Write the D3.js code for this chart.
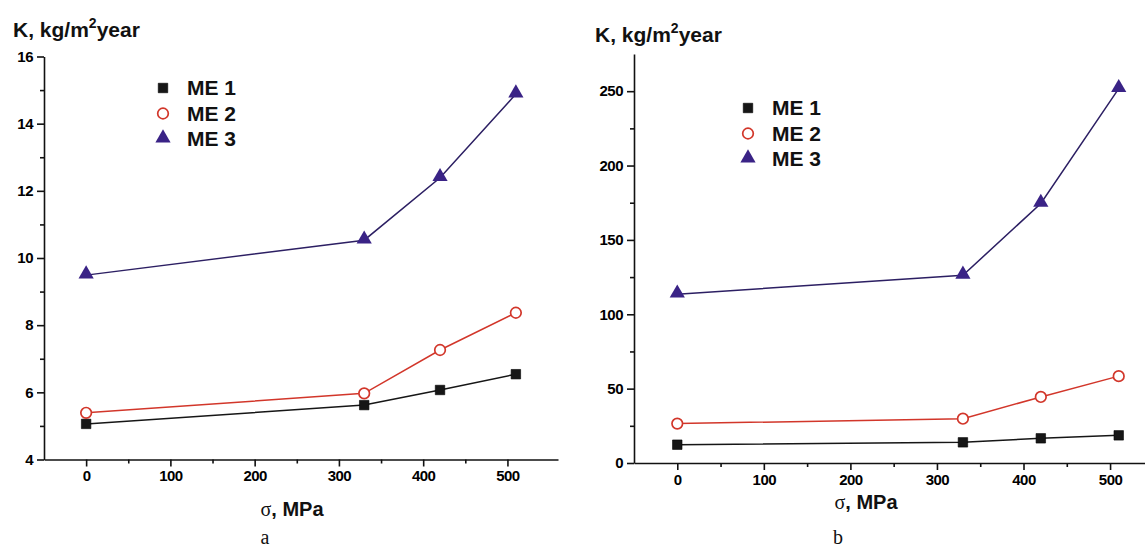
<!DOCTYPE html>
<html>
<head>
<meta charset="utf-8">
<script src="https://cdn.jsdelivr.net/npm/d3@7"></script>
<style>
body { margin: 0; background: #fff; }
svg { display: block; }
</style>
</head>
<body>
<div class="container"></div>
<script>
var WIDTH = 1145, HEIGHT = 552;

// stress values, MPa
var sigma = [0, 330, 420, 510];
var seriesNames = ["ME 1", "ME 2", "ME 3"];

// chart a: K, kg/m2year
var me1A = [5.06, 5.62, 6.07, 6.54];
var me2A = [5.39, 5.97, 7.26, 8.37];
var me3A = [9.49, 10.53, 12.39, 14.88];

// chart b: K, kg/m2year
var me1B = [12.3, 13.9, 16.6, 18.6];
var me2B = [26.5, 29.8, 44.4, 58.4];
var me3B = [113.5, 126.2, 174.5, 251.7];

var xTicks = [0, 100, 200, 300, 400, 500];
var xMinor = [50, 150, 250, 350, 450];
var yTicksA = [4, 6, 8, 10, 12, 14, 16];
var yMinorA = [5, 7, 9, 11, 13, 15];
var yTicksB = [0, 50, 100, 150, 200, 250];
var yMinorB = [25, 75, 125, 175, 225];

var colors = ["#161616", "#d2362a", "#2c1f63"];
var fills = ["#161616", "#ffffff", "#3a2386"];
var SANS = "Liberation Sans, Arial, sans-serif";
var SERIF = "Liberation Serif, serif";

var svg = d3.select(".container").append("svg")
	.attr("width", WIDTH)
	.attr("height", HEIGHT);

var styleAxis = function(sel){
	sel.selectAll(".domain, .tick line")
		.attr("stroke", "#111")
		.attr("stroke-width", 1.6);
	sel.selectAll("text")
		.attr("fill", "#000")
		.attr("font-family", SANS)
		.attr("font-size", 15)
		.attr("font-weight", "bold")
		.style("font-size", "15px")
		.style("font-weight", "bold")
		.style("letter-spacing", "-0.5px");
}

var drawChart = function(opt){
	var g = svg.append("g");
	var x = d3.scaleLinear().domain(opt.xDomain).range(opt.xRange);
	var y = d3.scaleLinear().domain(opt.yDomain).range(opt.yRange);

	// minor ticks first
	var mx = g.append("g")
		.attr("transform", "translate(0," + opt.yRange[0] + ")")
		.call(d3.axisBottom(x).tickValues(xMinor).tickSize(4).tickSizeOuter(0).tickFormat(""));
	mx.select(".domain").remove();
	styleAxis(mx);
	var my = g.append("g")
		.attr("transform", "translate(" + opt.xRange[0] + ",0)")
		.call(d3.axisLeft(y).tickValues(opt.yMinor).tickSize(4).tickSizeOuter(0).tickFormat(""));
	my.select(".domain").remove();
	styleAxis(my);

	var ax = g.append("g")
		.attr("transform", "translate(0," + opt.yRange[0] + ")")
		.call(d3.axisBottom(x).tickValues(xTicks).tickSize(7).tickSizeOuter(0).tickPadding(4));
	styleAxis(ax);
	var ay = g.append("g")
		.attr("transform", "translate(" + opt.xRange[0] + ",0)")
		.call(d3.axisLeft(y).tickValues(opt.yTicks).tickSize(7).tickSizeOuter(0).tickPadding(4));
	styleAxis(ay);

	var line = d3.line()
		.x(function(d, i){ return x(sigma[i]); })
		.y(function(d){ return y(d); });

	opt.series.forEach(function(vals, k){
		g.append("path")
			.attr("d", line(vals))
			.attr("fill", "none")
			.attr("stroke", colors[k])
			.attr("stroke-width", 1.5);
	});

	opt.series.forEach(function(vals, k){
		vals.forEach(function(v, i){
			marker(g, k, x(sigma[i]), y(v));
		});
	});

	// y axis title
	var t = g.append("text")
		.attr("x", opt.titlePos[0])
		.attr("y", opt.titlePos[1])
		.attr("font-family", SANS)
		.attr("font-weight", "bold")
		.attr("font-size", 21)
		.attr("fill", "#111");
	t.append("tspan").text("K, kg/m");
	t.append("tspan").attr("font-size", 14).attr("dy", -9).text("2");
	t.append("tspan").attr("dy", 9).text("year");

	// x axis title
	var xt = g.append("text")
		.attr("x", opt.xTitlePos[0])
		.attr("y", opt.xTitlePos[1])
		.attr("text-anchor", "middle")
		.attr("font-size", 20)
		.attr("fill", "#111");
	xt.append("tspan").attr("font-family", SERIF).text("σ");
	xt.append("tspan").attr("font-family", SANS).attr("font-weight", "bold").text(", MPa");

	// panel letter
	g.append("text")
		.attr("x", opt.letterPos[0])
		.attr("y", opt.letterPos[1])
		.attr("text-anchor", "middle")
		.attr("font-family", SERIF)
		.attr("font-size", 20)
		.attr("fill", "#111")
		.text(opt.letter);

	// legend
	seriesNames.forEach(function(name, k){
		var ly = opt.legendPos[1] + k * 25.5;
		marker(g, k, opt.legendPos[0], ly);
		g.append("text")
			.attr("x", opt.legendPos[0] + 24)
			.attr("y", ly + 7)
			.attr("font-family", SANS)
			.attr("font-weight", "bold")
			.attr("font-size", 21)
			.attr("fill", "#111")
			.text(name);
	});
}

var marker = function(g, k, cx, cy){
	if (k == 0) {
		g.append("path")
			.attr("d", d3.symbol().type(d3.symbolSquare).size(90)())
			.attr("transform", "translate(" + cx + "," + cy + ")")
			.attr("fill", fills[k])
			.attr("stroke", "#000")
			.attr("stroke-width", 0.6);
	} else if (k == 1) {
		g.append("circle")
			.attr("cx", cx)
			.attr("cy", cy)
			.attr("r", 5.3)
			.attr("fill", fills[k])
			.attr("stroke", colors[k])
			.attr("stroke-width", 1.7);
	} else {
		g.append("path")
			.attr("d", d3.symbol().type(d3.symbolTriangle).size(100)())
			.attr("transform", "translate(" + cx + "," + (cy - 1) + ")")
			.attr("fill", fills[k]);
	}
}

drawChart({
	xDomain: [-50, 560], xRange: [44, 558],
	yDomain: [4, 16], yRange: [459.5, 56.5],
	yTicks: yTicksA, yMinor: yMinorA,
	series: [me1A, me2A, me3A],
	titlePos: [13, 37],
	xTitlePos: [292, 516],
	letter: "a", letterPos: [265, 544],
	legendPos: [163, 88]
});

drawChart({
	xDomain: [-50, 560], xRange: [634, 1162],
	yDomain: [0, 275], yRange: [463, 54],
	yTicks: yTicksB, yMinor: yMinorB,
	series: [me1B, me2B, me3B],
	titlePos: [595, 42],
	xTitlePos: [866, 509],
	letter: "b", letterPos: [838, 544],
	legendPos: [748, 108]
});
</script>
</body>
</html>
